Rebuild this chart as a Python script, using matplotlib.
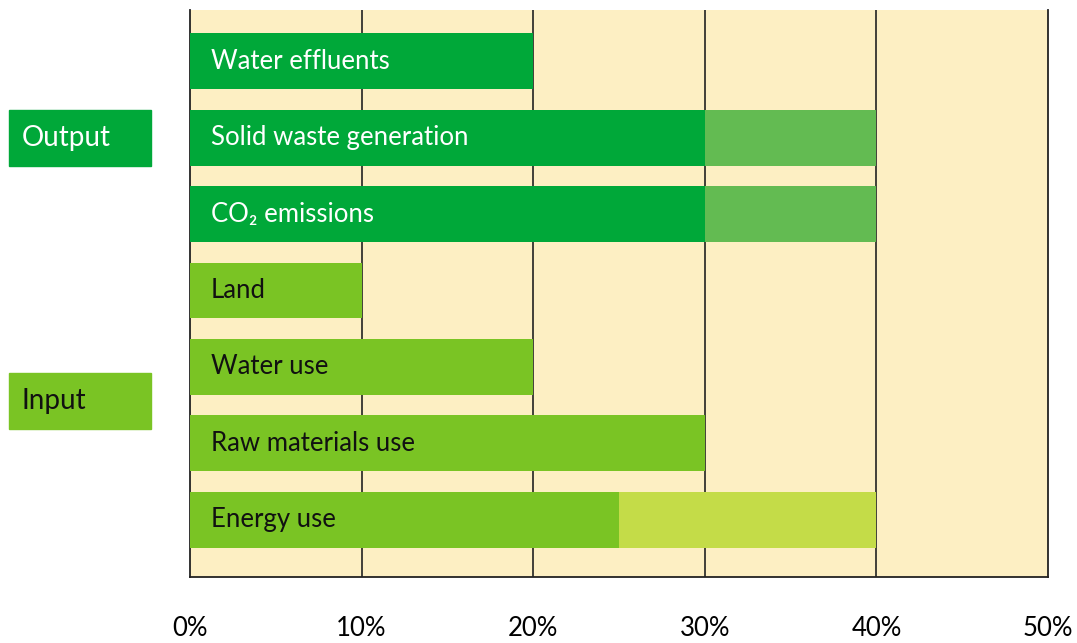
import matplotlib
matplotlib.use('Agg')
import matplotlib.pyplot as plt
from matplotlib.patches import Rectangle

plt.rcParams['font.family'] = ['Lato', 'DejaVu Sans']

labels = ['Water effluents', 'Solid waste generation', 'CO\u2082 emissions', 'Land',
          'Water use', 'Raw materials use', 'Energy use']
base = [20, 30, 30, 10, 20, 30, 25]
extra = [0, 10, 10, 0, 0, 0, 15]
group = ['Output', 'Output', 'Output', 'Input', 'Input', 'Input', 'Input']
ticks = [0, 10, 20, 30, 40, 50]
tick_labels = ['0%', '10%', '20%', '30%', '40%', '50%']

base_col = {'Output': '#00a839', 'Input': '#7ac424'}
extra_col = {'Output': '#63bb52', 'Input': '#c4dc48'}
text_col = {'Output': 'white', 'Input': '#111111'}

fig = plt.figure(figsize=(10.77, 6.43), dpi=100)
ax = fig.add_axes([0.1764, 0.1026, 0.7967, 0.8818])
ax.set_facecolor('#fdefc3')

y = list(range(len(labels)))
h = 0.73
ax.barh(y, base, height=h, color=[base_col[g] for g in group], zorder=3)
ax.barh(y, extra, left=base, height=h, color=[extra_col[g] for g in group], zorder=3)
for i, lab in enumerate(labels):
    ax.text(1.2, i, lab, va='center', ha='left', fontsize=18.5,
            color=text_col[group[i]], zorder=4)

for t in ticks[1:-1]:
    ax.axvline(t, color='#222222', lw=1.2, zorder=1)

ax.set_xlim(0, 50)
ax.set_ylim(6.75, -0.67)
ax.set_yticks([])
ax.set_xticks(ticks)
ax.set_xticklabels(tick_labels, fontsize=18.5)
ax.tick_params(axis='x', length=0, pad=28)
ax.spines['top'].set_visible(False)
for s in ['left', 'bottom', 'right']:
    ax.spines[s].set_color('#222222')
    ax.spines[s].set_linewidth(1.3)

# group boxes on the left
for name, yc, col, tc in [('Output', 1, '#00a839', 'white'),
                          ('Input', 4.45, '#7ac424', '#111111')]:
    ax.add_patch(Rectangle((-10.55, yc - h / 2), 8.28, h, color=col,
                           clip_on=False, zorder=3))
    ax.text(-9.8, yc, name, va='center', ha='left', fontsize=20, color=tc)

fig.savefig('out.png', dpi=100)
